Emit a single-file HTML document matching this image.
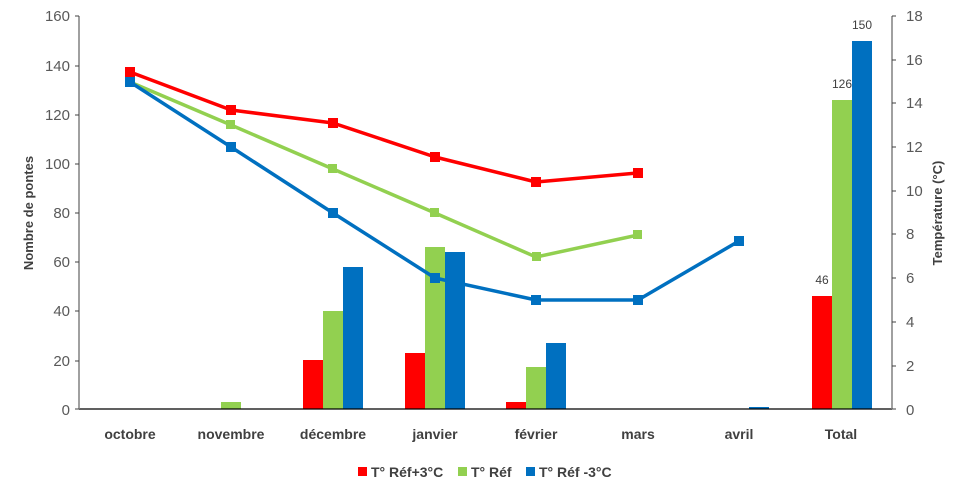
<!DOCTYPE html>
<html><head><meta charset="utf-8"><style>body{margin:0;background:#fff}svg{display:block}text{font-family:"Liberation Sans",sans-serif}</style></head><body>
<svg width="960" height="493" viewBox="0 0 960 493" xmlns="http://www.w3.org/2000/svg">
<g font-size="15" fill="#595959" text-anchor="end">
<text x="70" y="21">160</text><text x="70" y="71">140</text><text x="70" y="120">120</text><text x="70" y="169">100</text><text x="70" y="218">80</text><text x="70" y="267">60</text><text x="70" y="316">40</text><text x="70" y="366">20</text><text x="70" y="415">0</text>
</g>
<g font-size="15" fill="#595959" text-anchor="start">
<text x="906" y="21">18</text><text x="906" y="65">16</text><text x="906" y="108">14</text><text x="906" y="152">12</text><text x="906" y="196">10</text><text x="906" y="239">8</text><text x="906" y="283">6</text><text x="906" y="327">4</text><text x="906" y="371">2</text><text x="906" y="415">0</text>
</g>
<text transform="translate(33,213) rotate(-90)" font-size="13" font-weight="bold" fill="#404040" text-anchor="middle">Nombre de pontes</text>
<text transform="translate(942,213) rotate(-90)" font-size="13" font-weight="bold" fill="#404040" text-anchor="middle">Température (°C)</text>
<!-- bars: scale 409 - v*2.456 -->
<g>
<rect x="221" y="402" width="20" height="7" fill="#92d050"/>
<rect x="303" y="360" width="20" height="49" fill="#ff0000"/><rect x="323" y="311" width="20" height="98" fill="#92d050"/><rect x="343" y="267" width="20" height="142" fill="#0070c0"/>
<rect x="405" y="353" width="20" height="56" fill="#ff0000"/><rect x="425" y="247" width="20" height="162" fill="#92d050"/><rect x="445" y="252" width="20" height="157" fill="#0070c0"/>
<rect x="506" y="402" width="20" height="7" fill="#ff0000"/><rect x="526" y="367" width="20" height="42" fill="#92d050"/><rect x="546" y="343" width="20" height="66" fill="#0070c0"/>
<rect x="749" y="407" width="20" height="2" fill="#0070c0"/>
<rect x="812" y="296" width="20" height="113" fill="#ff0000"/><rect x="832" y="100" width="20" height="309" fill="#92d050"/><rect x="852" y="41" width="20" height="368" fill="#0070c0"/>
</g>
<g font-size="12" fill="#404040" text-anchor="middle"><text x="822" y="284">46</text><text x="842" y="88">126</text><text x="862" y="29">150</text></g>
<line x1="79" y1="409" x2="892" y2="409" stroke="#000" stroke-width="1.2"/>
<line x1="79" y1="16" x2="79" y2="409" stroke="#808080" stroke-width="1.5"/>
<line x1="892" y1="16" x2="892" y2="409" stroke="#808080" stroke-width="1.5"/>
<g stroke="#404040"><path d="M75 16h4M75 66h4M75 115h4M75 164h4M75 213h4M75 262h4M75 311h4M75 361h4M75 409h4"/>
<path d="M892 16h4M892 60h4M892 103h4M892 147h4M892 191h4M892 234h4M892 278h4M892 322h4M892 366h4M892 409h4"/></g>
<g fill="none" stroke-width="3.5" stroke-linejoin="round">
<polyline stroke="#92d050" points="130,82 231,125 333,169 435,213 536,257 638,235"/>
<polyline stroke="#0070c0" points="130,82 231,147 333,213 435,278 536,300 638,300 739,241"/>
<polyline stroke="#ff0000" points="130,72 231,110 333,123 435,157 536,182 638,173"/>
</g>
<g fill="#92d050"><rect x="226" y="120" width="9" height="9"/><rect x="328" y="164" width="9" height="9"/><rect x="430" y="208" width="9" height="9"/><rect x="532" y="252" width="9" height="9"/><rect x="633" y="230" width="9" height="9"/></g>
<g fill="#0070c0"><rect x="125" y="77" width="10" height="10"/><rect x="226" y="142" width="10" height="10"/><rect x="328" y="208" width="10" height="10"/><rect x="430" y="273" width="10" height="10"/><rect x="531" y="295" width="10" height="10"/><rect x="633" y="295" width="10" height="10"/><rect x="734" y="236" width="10" height="10"/></g>
<g fill="#ff0000"><rect x="125" y="67" width="10" height="10"/><rect x="226" y="105" width="10" height="10"/><rect x="328" y="118" width="10" height="10"/><rect x="430" y="152" width="10" height="10"/><rect x="531" y="177" width="10" height="10"/><rect x="633" y="168" width="10" height="10"/></g>
<g font-size="14" font-weight="bold" fill="#404040" text-anchor="middle">
<text x="130" y="439">octobre</text><text x="231" y="439">novembre</text><text x="333" y="439">décembre</text><text x="435" y="439">janvier</text><text x="536" y="439">février</text><text x="638" y="439">mars</text><text x="739" y="439">avril</text><text x="841" y="439">Total</text>
</g>
<g font-size="14" font-weight="bold" fill="#404040">
<rect x="358" y="467" width="9" height="9" fill="#ff0000"/><text x="371" y="477">T° Réf+3°C</text>
<rect x="458" y="467" width="9" height="9" fill="#92d050"/><text x="471" y="477">T° Réf</text>
<rect x="526" y="467" width="9" height="9" fill="#0070c0"/><text x="539" y="477">T° Réf -3°C</text>
</g>
</svg>
</body></html>
